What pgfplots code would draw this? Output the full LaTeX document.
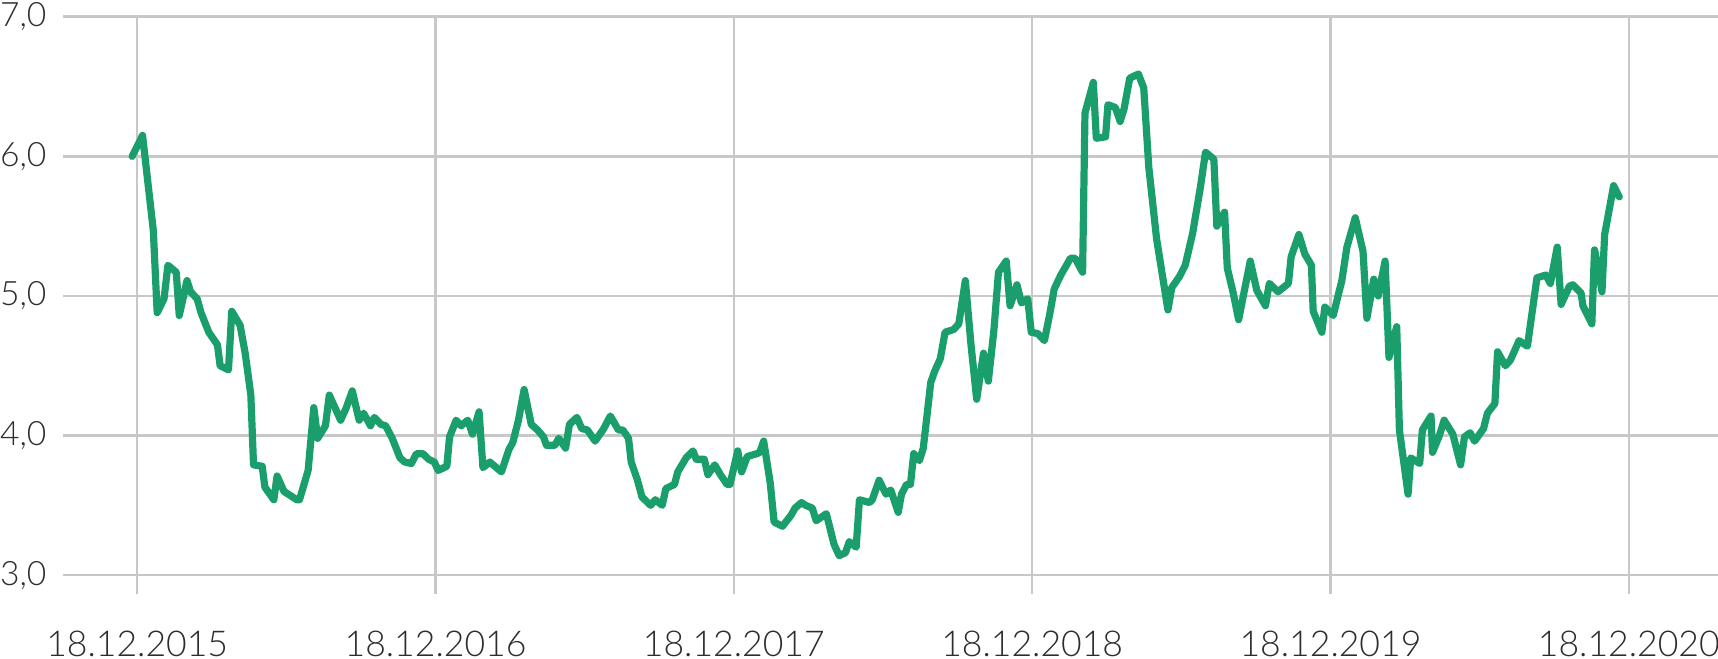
\documentclass[border=0pt]{standalone}
\usepackage{pgfplots}
\pgfplotsset{compat=1.18}
\usepackage{fontspec}
\setmainfont{Lato Light}
\definecolor{lgreen}{RGB}{26,159,108}
\definecolor{gridgray}{RGB}{200,200,200}
\definecolor{txt}{RGB}{45,45,45}
\begin{document}
\begin{tikzpicture}
\begin{axis}[
  name=ax,
  scale only axis,
  width=413.7pt, height=144.3pt,
  xmin=-0.248, xmax=5.299,
  ymin=2.865, ymax=7,
  xtick={0,1,2,3,4,5},
  xticklabels={18.12.2015,18.12.2016,18.12.2017,18.12.2018,18.12.2019,18.12.2020},
  ytick={3,4,5,6,7},
  yticklabels={{3,0},{4,0},{5,0},{6,0},{7,0}},
  grid=major,
  major grid style={draw=gridgray, line width=0.65pt},
  axis line style={draw=none},
  major tick length=0pt,
  tick label style={text=txt, inner sep=0pt},
  xticklabel style={font=\fontsize{8.9}{10}\selectfont, yshift=-9.0pt},
  yticklabel style={font=\fontsize{8.4}{10}\selectfont, xshift=-4.0pt},
  /pgf/number format/assume math mode=true,
  clip=false,
]
\addplot[lgreen, line width=1.8pt, line join=round, line cap=round] table {
x y
-0.017 6.00
0.018 6.15
0.054 5.47
0.067 4.88
0.090 4.98
0.103 5.22
0.131 5.17
0.141 4.86
0.167 5.11
0.179 5.03
0.201 4.98
0.214 4.88
0.240 4.74
0.269 4.65
0.278 4.50
0.306 4.47
0.317 4.89
0.345 4.79
0.362 4.59
0.381 4.29
0.390 3.79
0.419 3.78
0.428 3.63
0.458 3.54
0.469 3.71
0.492 3.60
0.535 3.54
0.544 3.54
0.573 3.75
0.592 4.20
0.605 3.98
0.631 4.07
0.644 4.29
0.682 4.11
0.701 4.20
0.721 4.32
0.744 4.11
0.759 4.16
0.782 4.07
0.795 4.13
0.817 4.08
0.833 4.07
0.855 3.98
0.881 3.84
0.897 3.81
0.919 3.80
0.936 3.87
0.958 3.87
0.977 3.83
0.996 3.81
1.009 3.75
1.038 3.78
1.047 3.99
1.069 4.11
1.086 4.07
1.108 4.11
1.124 4.01
1.146 4.17
1.159 3.77
1.182 3.81
1.221 3.74
1.246 3.90
1.259 3.95
1.278 4.11
1.297 4.33
1.321 4.08
1.342 4.04
1.362 3.99
1.372 3.93
1.400 3.93
1.413 3.98
1.436 3.91
1.449 4.08
1.474 4.13
1.490 4.05
1.509 4.04
1.535 3.96
1.564 4.05
1.586 4.14
1.613 4.04
1.628 4.04
1.647 3.98
1.656 3.81
1.677 3.68
1.692 3.56
1.721 3.50
1.737 3.54
1.760 3.50
1.772 3.62
1.801 3.65
1.812 3.74
1.840 3.84
1.863 3.89
1.874 3.83
1.901 3.83
1.913 3.72
1.936 3.79
1.955 3.72
1.977 3.65
1.987 3.65
2.013 3.89
2.026 3.74
2.045 3.85
2.077 3.87
2.087 3.88
2.100 3.96
2.122 3.66
2.135 3.38
2.163 3.35
2.192 3.43
2.205 3.48
2.227 3.52
2.241 3.50
2.263 3.48
2.276 3.39
2.310 3.44
2.336 3.22
2.353 3.14
2.374 3.16
2.387 3.24
2.410 3.20
2.421 3.54
2.455 3.52
2.464 3.54
2.487 3.68
2.510 3.58
2.526 3.61
2.551 3.45
2.562 3.58
2.579 3.65
2.592 3.65
2.603 3.87
2.622 3.82
2.635 3.91
2.660 4.38
2.673 4.46
2.692 4.55
2.708 4.74
2.737 4.76
2.754 4.80
2.776 5.11
2.795 4.65
2.814 4.26
2.837 4.59
2.853 4.39
2.872 4.76
2.887 5.17
2.913 5.25
2.926 4.93
2.949 5.08
2.964 4.95
2.985 4.98
2.997 4.74
3.019 4.73
3.041 4.68
3.058 4.86
3.074 5.05
3.096 5.15
3.115 5.22
3.128 5.27
3.144 5.27
3.169 5.17
3.177 6.31
3.205 6.53
3.215 6.13
3.246 6.14
3.254 6.37
3.279 6.35
3.295 6.25
3.308 6.34
3.327 6.56
3.356 6.59
3.374 6.49
3.391 5.92
3.417 5.41
3.455 4.90
3.468 5.06
3.494 5.14
3.513 5.22
3.538 5.45
3.564 5.78
3.581 6.03
3.609 5.98
3.619 5.50
3.645 5.60
3.654 5.20
3.673 5.03
3.692 4.83
3.731 5.25
3.753 5.04
3.782 4.93
3.795 5.09
3.824 5.03
3.859 5.09
3.868 5.28
3.894 5.44
3.914 5.30
3.936 5.22
3.942 4.89
3.971 4.74
3.981 4.92
4.009 4.86
4.038 5.11
4.055 5.35
4.083 5.56
4.109 5.32
4.122 4.84
4.145 5.12
4.160 5.00
4.183 5.25
4.196 4.56
4.222 4.78
4.231 4.04
4.260 3.58
4.269 3.84
4.299 3.80
4.308 4.04
4.337 4.14
4.342 3.88
4.365 4.00
4.381 4.11
4.410 4.01
4.436 3.79
4.449 3.99
4.468 4.02
4.483 3.96
4.513 4.05
4.526 4.16
4.551 4.23
4.560 4.60
4.586 4.50
4.603 4.54
4.632 4.68
4.660 4.64
4.692 5.13
4.722 5.15
4.737 5.09
4.760 5.35
4.773 4.94
4.801 5.07
4.812 5.08
4.840 5.02
4.846 4.93
4.876 4.80
4.885 5.33
4.897 5.21
4.910 5.03
4.919 5.44
4.949 5.79
4.968 5.71
};
\end{axis}
\path (ax.south west) ++(-15.8pt,-16.05pt) coordinate (bbA);
\path (ax.north east) ++(0pt,4.2pt) coordinate (bbB);
\pgfresetboundingbox
\path[use as bounding box] (bbA) rectangle (bbB);
\end{tikzpicture}
\end{document}
